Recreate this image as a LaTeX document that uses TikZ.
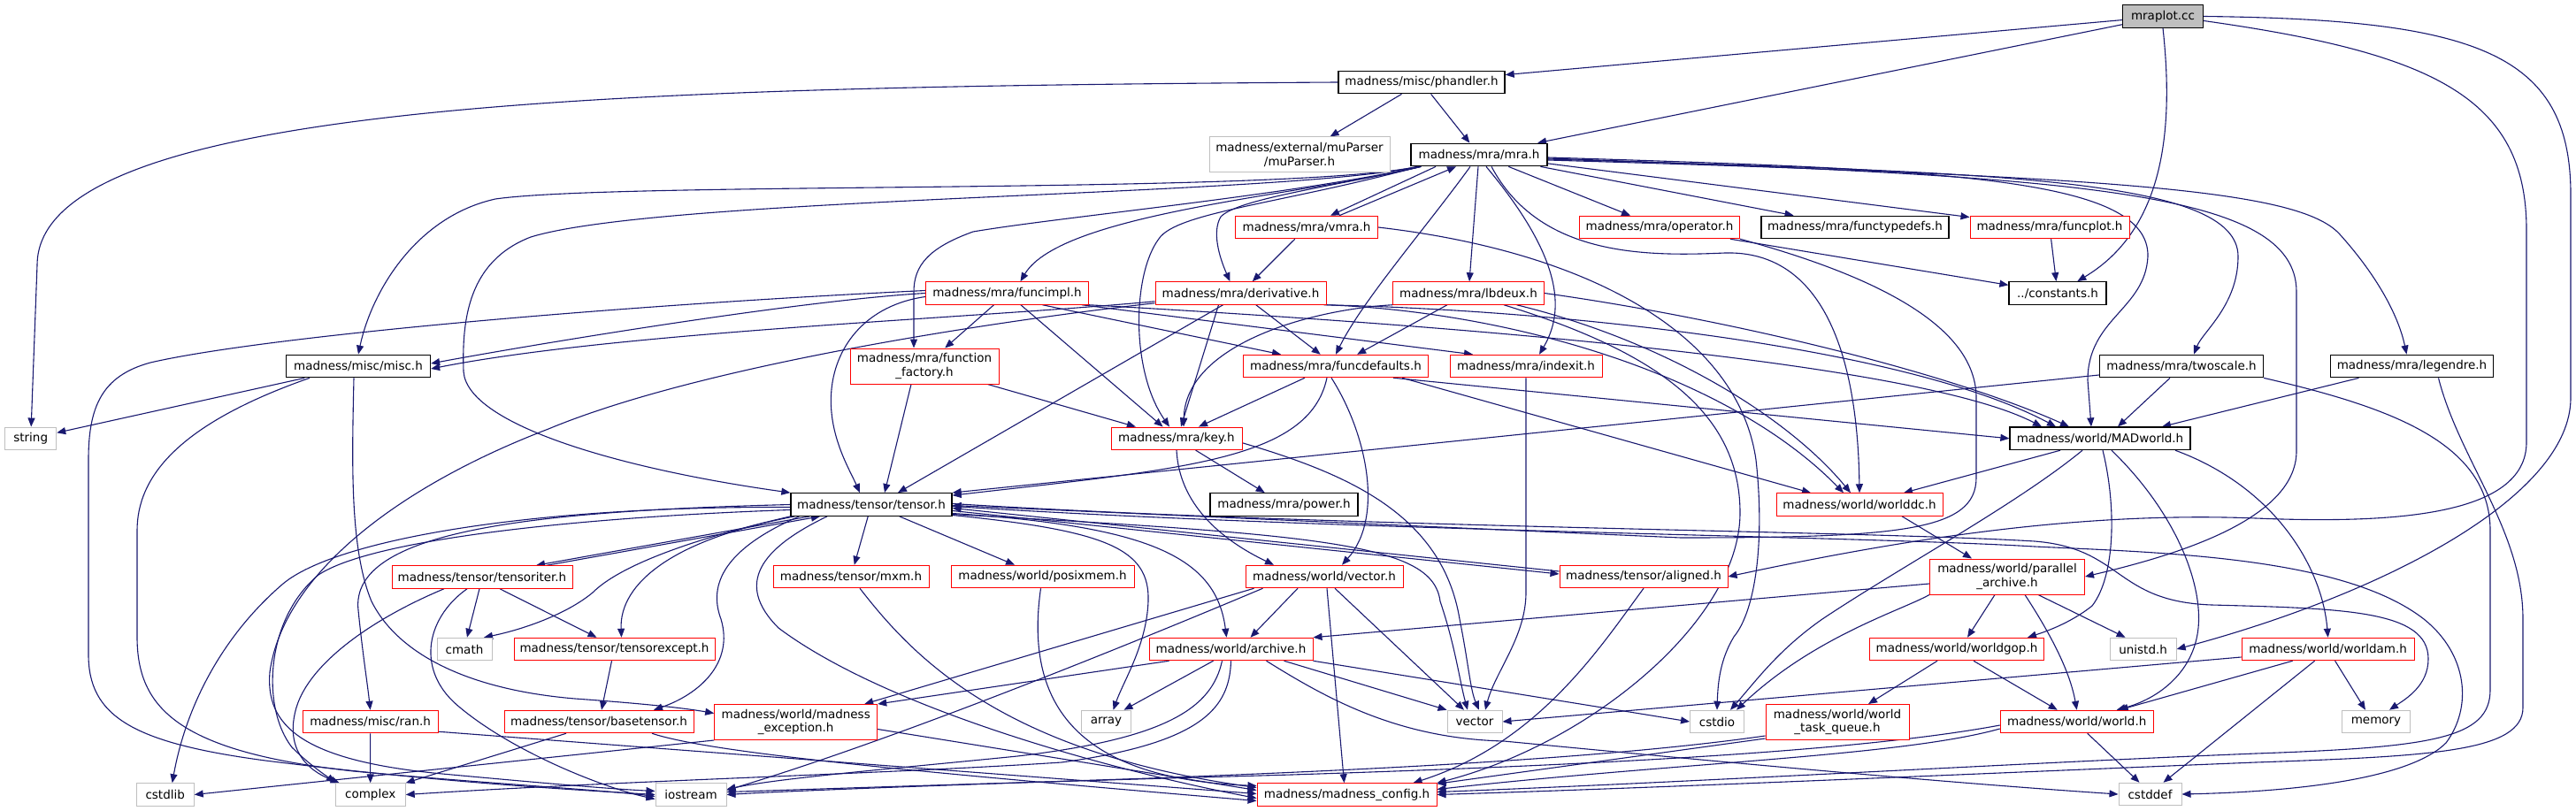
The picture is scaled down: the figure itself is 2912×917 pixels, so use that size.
\documentclass[tikz,border=0pt]{standalone}
\usepackage{fontspec}
\setmainfont{DejaVu Sans}
\usetikzlibrary{arrows.meta}
\definecolor{edgec}{HTML}{191970}
\definecolor{redc}{HTML}{FF0000}
\definecolor{grayc}{HTML}{BFBFBF}
\pgfdeclarelayer{back}
\pgfdeclarelayer{lines}
\pgfsetlayers{back,lines,main}
\newcommand\nfont{\fontsize{13.5pt}{15.5pt}\selectfont}
\tikzset{
  nd/.style={draw, line width=1pt, fill=white, font=\nfont, inner xsep=2pt, inner ysep=0pt, minimum height=25.5pt, align=center},
  blk/.style={nd, draw=black, line width=1.3pt},
  rdn/.style={nd, draw=redc},
  gyn/.style={nd, draw=grayc},
  lnk/.style={draw=edgec, line width=1.1pt, -{Triangle[length=10pt,width=8pt]}},
}
\begin{document}
\begin{tikzpicture}[x=1pt,y=-1pt]
\begin{pgfonlayer}{back}
\fill[white] (0,0) rectangle (2912,917);
\end{pgfonlayer}
\useasboundingbox (0,0) rectangle (2912,917);

\node[blk, fill=grayc, minimum width=91pt] (mraplot) at (2445,18.5) {mraplot.cc};
\node[blk, minimum width=188pt] (phandler) at (1607,93) {madness/misc/phandler.h};
\node[gyn, minimum width=204pt, minimum height=40pt] (muparser) at (1469,175) {madness/external/muParser\\/muParser.h};
\node[blk, minimum width=154pt] (mra) at (1672,175) {madness/mra/mra.h};
\node[rdn, minimum width=161pt] (vmra) at (1477,257) {madness/mra/vmra.h};
\node[rdn, minimum width=181pt] (operator) at (1876,257) {madness/mra/operator.h};
\node[blk, minimum width=212pt] (ftypedefs) at (2097,257) {madness/mra/functypedefs.h};
\node[rdn, minimum width=180pt] (funcplot) at (2317,257) {madness/mra/funcplot.h};
\node[rdn, minimum width=184pt] (funcimpl) at (1138.5,331.5) {madness/mra/funcimpl.h};
\node[rdn, minimum width=193pt] (deriv) at (1402.5,331.5) {madness/mra/derivative.h};
\node[rdn, minimum width=171pt] (lbdeux) at (1660,331.5) {madness/mra/lbdeux.h};
\node[blk, minimum width=110pt] (constants) at (2326,331.5) {../constants.h};
\node[blk, minimum width=163pt] (misc) at (405,414) {madness/misc/misc.h};
\node[rdn, minimum width=168pt, minimum height=40pt] (ffactory) at (1045,414) {madness/mra/function\\\_factory.h};
\node[rdn, minimum width=209pt] (fdefaults) at (1510,414) {madness/mra/funcdefaults.h};
\node[rdn, minimum width=172pt] (indexit) at (1725,414) {madness/mra/indexit.h};
\node[blk, minimum width=185pt] (twoscale) at (2466,414) {madness/mra/twoscale.h};
\node[blk, minimum width=184pt] (legendre) at (2726.5,414) {madness/mra/legendre.h};
\node[gyn, minimum width=58pt] (string) at (34.7,495.8) {string};
\node[rdn, minimum width=148pt] (key) at (1330,495.8) {madness/mra/key.h};
\node[blk, minimum width=204pt] (madworld) at (2374,495.8) {madness/world/MADworld.h};
\node[blk, minimum width=182pt] (tensor) at (985,570.5) {madness/tensor/tensor.h};
\node[blk, minimum width=167pt] (power) at (1451.5,570.5) {madness/mra/power.h};
\node[rdn, minimum width=188pt] (worlddc) at (2102,570.5) {madness/world/worlddc.h};
\node[rdn, minimum width=204pt] (titer) at (545,652.5) {madness/tensor/tensoriter.h};
\node[rdn, minimum width=176pt] (mxm) at (962,652) {madness/tensor/mxm.h};
\node[rdn, minimum width=207pt] (posixmem) at (1178.5,652) {madness/world/posixmem.h};
\node[rdn, minimum width=178pt] (wvector) at (1497,652) {madness/world/vector.h};
\node[rdn, minimum width=190pt] (aligned) at (1858,652) {madness/tensor/aligned.h};
\node[rdn, minimum width=175pt, minimum height=40pt] (parch) at (2269,652) {madness/world/parallel\\\_archive.h};
\node[gyn, minimum width=62pt] (cmath) at (525,734) {cmath};
\node[rdn, minimum width=227pt] (texcept) at (694.5,734) {madness/tensor/tensorexcept.h};
\node[rdn, minimum width=185pt] (archive) at (1391.5,734) {madness/world/archive.h};
\node[gyn, minimum width=75pt] (unistd) at (2422.6,734) {unistd.h};
\node[rdn, minimum width=197pt] (worldgop) at (2212,734) {madness/world/worldgop.h};
\node[rdn, minimum width=195pt] (worldam) at (2631.6,734) {madness/world/worldam.h};
\node[rdn, minimum width=153pt] (ran) at (418.6,816) {madness/misc/ran.h};
\node[rdn, minimum width=214pt] (basetensor) at (677,816) {madness/tensor/basetensor.h};
\node[rdn, minimum width=184pt, minimum height=40pt] (mexc) at (899.7,816.5) {madness/world/madness\\\_exception.h};
\node[gyn, minimum width=56pt] (array) at (1250.5,816) {array};
\node[gyn, minimum width=62pt] (vector) at (1667,816) {vector};
\node[gyn, minimum width=61pt] (cstdio) at (1941,816) {cstdio};
\node[rdn, minimum width=162pt, minimum height=40pt] (wtq) at (2077,816.5) {madness/world/world\\\_task\_queue.h};
\node[rdn, minimum width=173pt] (world) at (2347.7,816) {madness/world/world.h};
\node[gyn, minimum width=77pt] (memory) at (2686,816) {memory};
\node[gyn, minimum width=65pt] (cstdlib) at (186.7,898.5) {cstdlib};
\node[gyn, minimum width=79pt] (complex) at (418.7,898.5) {complex};
\node[gyn, minimum width=80pt] (iostream) at (781,898.5) {iostream};
\node[rdn, minimum width=203pt] (mconfig) at (1522.5,898.5) {madness/madness\_config.h};
\node[gyn, minimum width=71pt] (cstddef) at (2430.5,898) {cstddef};

\begin{pgfonlayer}{lines}
% mraplot
\draw[lnk] (mraplot) -- (phandler);
\draw[lnk] (mraplot) -- (mra);
\draw[lnk] (mraplot.south) .. controls (2458,150) and (2445,260) .. (constants);
\draw[lnk] (mraplot.east) .. controls (2800,22) and (2906,60) .. (2906,220) -- (2906,450) .. controls (2906,560) and (2700,670) .. (unistd.east);
\draw[lnk] ([yshift=-5pt]mraplot.east) .. controls (2750,60) and (2856,110) .. (2856,260) -- (2856,500) .. controls (2856,585) and (2700,592) .. (2550,586) .. controls (2350,578) and (2150,610) .. (aligned.east);
% phandler
\draw[lnk] (phandler) -- (muparser);
\draw[lnk] (phandler) -- (mra);
\draw[lnk] (phandler.west) .. controls (700,98) and (42,115) .. (42,300) -- (string);
% mra
\draw[lnk] ([xshift=-49pt]mra.south) -- ([xshift=27pt]vmra.north);
\draw[lnk] ([xshift=37pt]vmra.north) -- ([xshift=-26pt]mra.south);
\draw[lnk] (mra) -- (operator);
\draw[lnk] (mra) -- (ftypedefs);
\draw[lnk] (mra) -- (funcplot);
\draw[lnk] (mra) -- (lbdeux);
\draw[lnk] ([xshift=8pt]mra.south) .. controls (1765,290) and (1770,350) .. ([xshift=15pt]indexit.north);
\draw[lnk] ([xshift=-10pt]mra.south) .. controls (1610,260) and (1540,340) .. (fdefaults.north);
\draw[lnk] ([xshift=14pt]mra.south) .. controls (1740,290) and (1860,290) .. (1950,286) .. controls (2060,283) and (2100,400) .. (worlddc.north);
\draw[lnk] ([yshift=-3pt]mra.east) .. controls (2200,192) and (2430,200) .. (2428,290) .. controls (2425,350) and (2360,360) .. (2360,430) -- ([xshift=-10pt]madworld.north);
\draw[lnk] ([yshift=-5pt]mra.east) .. controls (2250,195) and (2530,200) .. (2530,290) .. controls (2530,345) and (2490,375) .. ([xshift=14pt]twoscale.north);
\draw[lnk] ([yshift=-6pt]mra.east) .. controls (2400,200) and (2600,215) .. (2645,265) .. controls (2690,315) and (2712,360) .. ([xshift=-6pt]legendre.north);
\draw[lnk] ([yshift=-4pt]mra.east) .. controls (2350,200) and (2596,215) .. (2596,330) -- (2596,510) .. controls (2596,590) and (2450,630) .. (parch.east);
\draw[lnk] ([xshift=8pt]mra.south west) .. controls (1450,220) and (700,205) .. (560,225) .. controls (470,245) and (420,330) .. (misc.north);
\draw[lnk] ([xshift=8pt]mra.south west) .. controls (1450,222) and (750,222) .. (600,268) .. controls (530,295) and (522,360) .. (524,420) .. controls (528,480) and (700,530) .. (tensor.north west);
\draw[lnk] ([xshift=12pt]mra.south west) .. controls (1480,220) and (1200,240) .. ([xshift=15pt]funcimpl.north);
\draw[lnk] ([xshift=12pt]mra.south west) .. controls (1450,222) and (1200,245) .. (1100,262) .. controls (1050,280) and (1033,300) .. (1033,330) -- ([xshift=-12pt]ffactory.north);
\draw[lnk] ([xshift=12pt]mra.south west) .. controls (1500,212) and (1400,225) .. (1380,245) .. controls (1370,262) and (1378,290) .. ([xshift=-12pt]deriv.north);
\draw[lnk] ([xshift=10pt]mra.south west) .. controls (1450,230) and (1330,240) .. (1310,270) .. controls (1280,310) and (1278,420) .. ([xshift=-8pt]key.north);
% vmra
\draw[lnk] (vmra) -- (deriv);
\draw[lnk] (vmra.east) .. controls (1800,285) and (1965,380) .. (1985,520) .. controls (1995,610) and (1985,690) .. (1960,720) .. controls (1945,745) and (1942,770) .. (cstdio.north);
% operator
\draw[lnk] (operator) -- (constants);
\draw[lnk] (operator.south east) .. controls (2150,320) and (2234,380) .. (2234,450) -- (2234,540) .. controls (2234,600) and (2150,608) .. (1900,608) -- ([yshift=-1pt]tensor.east);
% funcplot
\draw[lnk] (funcplot) -- (constants);
% funcimpl
\draw[lnk] (funcimpl) -- (ffactory);
\draw[lnk] (funcimpl) -- (key);
\draw[lnk] ([xshift=40pt]funcimpl.south) -- ([xshift=-62pt]fdefaults.north);
\draw[lnk] ([xshift=-8pt]funcimpl.south east) -- ([xshift=-60pt]indexit.north);
\draw[lnk] (funcimpl.south east) .. controls (1500,360) and (2150,400) .. ([xshift=-66pt]madworld.north);
\draw[lnk] (funcimpl.west) .. controls (900,340) and (600,390) .. ([yshift=3pt]misc.east);
\draw[lnk] ([yshift=-4pt]funcimpl.west) .. controls (980,345) and (945,390) .. (940,440) .. controls (935,490) and (960,530) .. ([xshift=-13pt]tensor.north);
\draw[lnk] ([yshift=3pt]funcimpl.west) .. controls (700,345) and (300,380) .. (170,410) .. controls (115,425) and (100,460) .. (100,520) -- (100,740) .. controls (100,810) and (150,840) .. (300,860) .. controls (500,885) and (650,893) .. (iostream.west);
% derivative
\draw[lnk] (deriv) -- (fdefaults);
\draw[lnk] ([xshift=-25pt]deriv.south) -- ([xshift=5pt]key.north);
\draw[lnk] ([xshift=-20pt]deriv.south) -- ([xshift=30pt]tensor.north);
\draw[lnk] ([yshift=4pt]deriv.south west) .. controls (1100,360) and (700,375) .. ([yshift=-3pt]misc.east);
\draw[lnk] (deriv.south east) .. controls (1700,352) and (1950,420) .. ([xshift=-18pt]worlddc.north);
\draw[lnk] ([xshift=-3pt]deriv.south east) .. controls (1750,350) and (2150,390) .. ([xshift=-50pt]madworld.north);
\draw[lnk] ([yshift=2pt]deriv.south west) .. controls (1150,360) and (800,410) .. (620,485) .. controls (450,550) and (320,650) .. (305,760) .. controls (300,820) and (340,860) .. (500,875) .. controls (620,886) and (690,892) .. ([yshift=4pt]iostream.west);
% lbdeux
\draw[lnk] (lbdeux) -- (fdefaults);
\draw[lnk] (lbdeux.south west) .. controls (1480,350) and (1340,390) .. ([xshift=8pt]key.north);
\draw[lnk] (lbdeux) .. controls (1880,385) and (2020,470) .. ([xshift=-10pt]worlddc.north);
\draw[lnk] (lbdeux.east) .. controls (1950,360) and (2200,420) .. ([xshift=-35pt]madworld.north);
\draw[lnk] ([xshift=40pt]lbdeux.south) .. controls (1880,400) and (1967,470) .. (1967,580) .. controls (1967,700) and (1800,840) .. (mconfig.north east);
% function factory
\draw[lnk] (ffactory) -- (key);
\draw[lnk] ([xshift=-15pt]ffactory.south) -- ([xshift=15pt]tensor.north);
% funcdefaults
\draw[lnk] ([xshift=-35pt]fdefaults.south) -- ([xshift=25pt]key.north);
\draw[lnk] ([xshift=-10pt]fdefaults.south) .. controls (1480,520) and (1340,530) .. ([yshift=-3pt]tensor.north east);
\draw[lnk] ([xshift=-5pt]fdefaults.south) .. controls (1545,490) and (1565,585) .. ([xshift=20pt]wvector.north);
\draw[lnk] ([xshift=-30pt]fdefaults.south east) -- ([xshift=-55pt]worlddc.north);
\draw[lnk] ([xshift=-40pt]fdefaults.south east) -- (madworld.west);
% indexit
\draw[lnk] (indexit.south) -- (1725,670) .. controls (1725,720) and (1690,760) .. ([xshift=12pt]vector.north);
% twoscale
\draw[lnk] ([xshift=-13pt]twoscale.south) -- ([xshift=20pt]madworld.north);
\draw[lnk] ([yshift=-10pt]twoscale.west) -- (tensor.north east);
\draw[lnk] (twoscale.south east) .. controls (2700,460) and (2815,500) .. (2815,600) -- (2815,780) .. controls (2815,835) and (2750,845) .. (2550,852) .. controls (2300,862) and (1900,885) .. ([yshift=3pt]mconfig.east);
% legendre
\draw[lnk] ([xshift=-60pt]legendre.south) -- ([xshift=70pt]madworld.north);
\draw[lnk] ([xshift=30pt]legendre.south) .. controls (2780,520) and (2852,600) .. (2852,700) -- (2852,800) .. controls (2852,850) and (2750,855) .. (2550,862) .. controls (2300,872) and (1900,890) .. (mconfig.east);
% key
\draw[lnk] (key) -- (power);
\draw[lnk] (key.south) .. controls (1333,570) and (1380,610) .. ([xshift=-57pt]wvector.north);
\draw[lnk] ([yshift=-5pt]key.east) .. controls (1520,535) and (1630,580) .. (1650,700) .. controls (1660,750) and (1662,780) .. ([xshift=5pt]vector.north);
% MADworld
\draw[lnk] ([xshift=-45pt]madworld.south) -- ([xshift=50pt]worlddc.north);
\draw[lnk] ([xshift=3pt]madworld.south) .. controls (2392,570) and (2392,650) .. (2365,685) .. controls (2340,705) and (2310,715) .. ([xshift=80pt]worldgop.north);
\draw[lnk] ([xshift=13pt]madworld.south) .. controls (2460,580) and (2490,660) .. (2485,710) .. controls (2480,760) and (2440,790) .. ([xshift=45pt]world.north);
\draw[lnk] ([xshift=85pt]madworld.south) .. controls (2570,550) and (2625,640) .. (worldam.north);
\draw[lnk] ([xshift=-20pt]madworld.south) .. controls (2280,570) and (2150,640) .. (2060,700) .. controls (2010,735) and (1985,770) .. ([xshift=15pt]cstdio.north);
% worlddc
\draw[lnk] ([xshift=48pt]worlddc.south) -- ([xshift=-40pt]parch.north);
% parallel archive
\draw[lnk] ([yshift=-8pt]parch.west) -- (archive.north east);
\draw[lnk] ([xshift=-14pt]parch.south) -- ([xshift=12pt]worldgop.north);
\draw[lnk] ([xshift=20pt]parch.south) .. controls (2320,720) and (2340,760) .. (world.north);
\draw[lnk] ([xshift=35pt]parch.south) -- ([xshift=-20pt]unistd.north);
\draw[lnk] (parch.south west) .. controls (2150,690) and (2050,720) .. ([xshift=22pt]cstdio.north);
% worldgop
\draw[lnk] ([xshift=-22pt]worldgop.south) -- ([xshift=35pt]wtq.north);
\draw[lnk] ([xshift=19pt]worldgop.south) -- ([xshift=-22pt]world.north);
% worldam
\draw[lnk] ([yshift=-9pt]worldam.west) -- (vector.east);
\draw[lnk] ([xshift=-40pt]worldam.south) -- ([xshift=48pt]world.north);
\draw[lnk] ([xshift=-15pt]worldam.south) -- ([xshift=15pt]cstddef.north);
\draw[lnk] ([xshift=8pt]worldam.south) -- ([xshift=-12pt]memory.north);
% world
\draw[lnk] ([yshift=-8pt]world.west) .. controls (2150,855) and (1900,862) .. ([yshift=6pt]mconfig.east);
\draw[lnk] ([yshift=-4pt]world.west) .. controls (2100,850) and (1800,865) .. (1460,876) .. controls (1100,886) and (900,893) .. ([yshift=3pt]iostream.east);
\draw[lnk] ([xshift=12pt]world.south) -- ([xshift=-12pt]cstddef.north);
% world task queue
\draw[lnk] ([yshift=2pt]wtq.south west) -- ([yshift=-1pt]mconfig.north east);
\draw[lnk] ([yshift=5pt]wtq.south west) .. controls (1800,860) and (1500,872) .. (1300,880) .. controls (1000,890) and (880,895) .. (iostream.east);
% aligned
\draw[lnk] (aligned.south) .. controls (1810,730) and (1740,840) .. ([xshift=75pt]mconfig.north);
% tensor
\draw[lnk] ([xshift=-70pt]tensor.south) -- ([xshift=61pt]titer.north);
\draw[lnk] ([xshift=73pt]titer.north) -- ([xshift=-58pt]tensor.south);
\draw[lnk] (tensor.south west) .. controls (780,610) and (700,640) .. (670,670) .. controls (640,695) and (590,712) .. ([xshift=22pt]cmath.north);
\draw[lnk] ([xshift=5pt]tensor.south west) .. controls (760,610) and (700,660) .. ([xshift=8pt]texcept.north);
\draw[lnk] ([xshift=10pt]tensor.south west) .. controls (820,620) and (800,660) .. (815,700) .. controls (830,750) and (790,785) .. ([xshift=62pt]basetensor.north);
\draw[lnk] (tensor.west) .. controls (600,578) and (395,600) .. (405,690) .. controls (410,740) and (415,770) .. (ran.north);
\draw[lnk] ([yshift=-3pt]tensor.west) .. controls (600,572) and (380,610) .. (320,660) .. controls (250,720) and (210,800) .. ([xshift=8pt]cstdlib.north);
\draw[lnk] ([yshift=-6pt]tensor.west) .. controls (650,585) and (420,610) .. (360,650) .. controls (300,700) and (295,800) .. (330,845) .. controls (350,865) and (370,878) .. (complex.north west);
\draw[lnk] ([xshift=-50pt]tensor.south) .. controls (860,620) and (830,660) .. (880,710) .. controls (1000,800) and (1250,870) .. ([yshift=-4pt]mconfig.west);
\draw[lnk] (tensor) -- (mxm);
\draw[lnk] (tensor) -- (posixmem);
\draw[lnk] ([yshift=-7pt]tensor.east) -- ([yshift=3pt]aligned.west);
\draw[lnk] ([yshift=6pt]aligned.west) -- ([yshift=-4pt]tensor.east);
\draw[lnk] ([yshift=-10pt]tensor.east) .. controls (1300,595) and (1375,630) .. ([xshift=-5pt]archive.north);
\draw[lnk] ([yshift=-12pt]tensor.east) .. controls (1250,600) and (1300,620) .. (1298,680) .. controls (1296,730) and (1270,770) .. ([xshift=8pt]array.north);
\draw[lnk] ([yshift=-11pt]tensor.east) .. controls (1500,605) and (1620,615) .. (1628,680) .. controls (1645,730) and (1650,770) .. ([xshift=-8pt]vector.north);
\draw[lnk] ([yshift=1pt]tensor.east) .. controls (1500,596) and (2100,600) .. (2300,612) .. controls (2400,620) and (2390,680) .. (2500,684) .. controls (2650,688) and (2745,690) .. (2745,745) .. controls (2745,775) and (2720,790) .. ([xshift=15pt]memory.north);
\draw[lnk] ([yshift=-2pt]tensor.east) .. controls (1500,600) and (2100,606) .. (2300,618) .. controls (2450,625) and (2650,630) .. (2740,700) .. controls (2790,740) and (2795,800) .. (2765,840) .. controls (2725,880) and (2600,895) .. (cstddef.east);
% tensoriter
\draw[lnk] ([xshift=-3pt]titer.south) -- ([xshift=3pt]cmath.north);
\draw[lnk] ([xshift=20pt]titer.south) -- ([xshift=-20pt]texcept.north);
\draw[lnk] ([xshift=-43pt]titer.south) .. controls (420,700) and (350,750) .. (335,800) .. controls (322,845) and (345,870) .. ([xshift=5pt]complex.north west);
\draw[lnk] ([xshift=-17pt]titer.south) .. controls (480,700) and (470,760) .. (520,800) .. controls (580,850) and (680,890) .. ([yshift=-5pt]iostream.west);
% tensorexcept, basetensor, ran
\draw[lnk] ([xshift=-3pt]texcept.south) -- ([xshift=3pt]basetensor.north);
\draw[lnk] ([xshift=-37pt]basetensor.south) -- (complex.north east);
\draw[lnk] ([xshift=60pt]basetensor.south) .. controls (800,850) and (1000,870) .. ([yshift=-7pt]mconfig.west);
\draw[lnk] (ran) -- (complex);
\draw[lnk] ([yshift=2pt]ran.south east) -- ([yshift=1pt]mconfig.west);
% madness_exception
\draw[lnk] ([yshift=-8pt]mexc.east) -- ([yshift=5pt]mconfig.west);
\draw[lnk] (mexc.south west) -- (cstdlib.east);
% mxm, posixmem
\draw[lnk] ([xshift=10pt]mxm.south) .. controls (1030,740) and (1130,850) .. ([yshift=8pt]mconfig.west);
\draw[lnk] ([xshift=-2pt]posixmem.south) .. controls (1160,780) and (1200,880) .. ([yshift=10pt]mconfig.west);
% world vector
\draw[lnk] ([xshift=-30pt]wvector.south) -- ([xshift=22pt]archive.north);
\draw[lnk] ([xshift=12pt]wvector.south) -- ([xshift=-12pt]vector.north);
\draw[lnk] ([xshift=3pt]wvector.south) -- ([xshift=-3pt]mconfig.north);
\draw[lnk] ([xshift=10pt]wvector.south west) -- ([xshift=-15pt]mexc.north east);
\draw[lnk] ([xshift=20pt]wvector.south west) .. controls (1250,740) and (1000,840) .. ([yshift=5pt]iostream.east);
% archive
\draw[lnk] ([xshift=-70pt]archive.south) -- (mexc.north east);
\draw[lnk] ([xshift=-20pt]archive.south) -- ([xshift=20pt]array.north);
\draw[lnk] (archive.south) .. controls (1390,800) and (1360,840) .. (1200,862) .. controls (1000,875) and (700,883) .. (complex.east);
\draw[lnk] ([xshift=-10pt]archive.south) .. controls (1370,800) and (1320,835) .. (1150,855) .. controls (1000,870) and (880,880) .. ([yshift=6pt]iostream.east);
\draw[lnk] ([xshift=60pt]archive.south) -- (vector.north west);
\draw[lnk] (archive.south east) -- (cstdio.west);
\draw[lnk] ([xshift=40pt]archive.south) .. controls (1500,790) and (1580,835) .. (1700,838) .. controls (1950,862) and (2200,885) .. (cstddef.west);
% misc
\draw[lnk] (misc) -- (string);
\draw[lnk] ([xshift=-55pt]misc.south) .. controls (200,480) and (155,540) .. (155,600) -- (155,720) .. controls (155,800) and (200,850) .. (400,872) .. controls (550,886) and (680,893) .. ([yshift=-2pt]iostream.west);
\draw[lnk] ([xshift=-5pt]misc.south) .. controls (398,520) and (395,620) .. (420,680) .. controls (450,740) and (530,780) .. (650,790) .. controls (720,795) and (770,800) .. ([yshift=10pt]mexc.west);
\end{pgfonlayer}
\end{tikzpicture}
\end{document}
